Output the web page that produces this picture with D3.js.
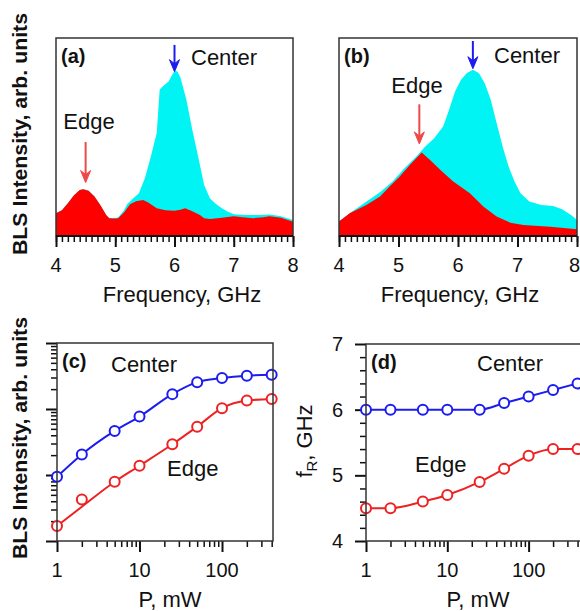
<!DOCTYPE html>
<html><head><meta charset="utf-8">
<script src="https://cdn.jsdelivr.net/npm/d3@7"></script>
<style>
html,body{margin:0;padding:0;background:#fff;}
text{font-family:"Liberation Sans",Arial,Helvetica,sans-serif;fill:#111;}
</style></head>
<body>
<svg id="fig" width="580" height="611"></svg>
<script>
// ---------- DATA ----------
// Panel (a): BLS spectra (arb. units, 0..1 full scale)
const edgeFreqA   = [4.0,4.1,4.2,4.3,4.4,4.46,4.55,4.65,4.75,4.85,4.9,5.0,5.05,5.15,5.25,5.35,5.47,5.55,5.7,5.85,6.0,6.1,6.18,6.3,6.43,6.5,6.6,6.8,7.0,7.15,7.33,7.5,7.6,7.8,8.0];
const edgeA       = [0.115,0.13,0.165,0.205,0.232,0.236,0.228,0.2,0.155,0.105,0.09,0.088,0.09,0.12,0.16,0.175,0.182,0.17,0.14,0.13,0.128,0.133,0.14,0.125,0.106,0.09,0.086,0.092,0.1,0.095,0.09,0.095,0.1,0.092,0.072];
const centerFreqA = [4.0,4.1,4.2,4.3,4.4,4.46,4.55,4.65,4.75,4.85,4.9,5.0,5.05,5.15,5.2,5.3,5.4,5.5,5.6,5.7,5.75,5.8,5.9,6.0,6.05,6.1,6.2,6.3,6.4,6.5,6.6,6.7,6.8,6.9,7.0,7.2,7.44,7.6,7.78,8.0];
const centerA     = [0.115,0.13,0.165,0.205,0.232,0.236,0.228,0.2,0.155,0.105,0.09,0.09,0.095,0.13,0.16,0.19,0.216,0.292,0.40,0.52,0.74,0.755,0.78,0.835,0.831,0.80,0.69,0.536,0.40,0.258,0.19,0.162,0.14,0.123,0.11,0.106,0.106,0.108,0.101,0.081];
// Panel (b)
const edgeFreqB   = [4.0,4.18,4.46,4.69,4.85,5.02,5.19,5.39,5.53,5.7,5.92,6.2,6.43,6.65,6.88,7.1,7.55,8.0];
const edgeB       = [0.073,0.115,0.157,0.199,0.25,0.3,0.359,0.422,0.384,0.334,0.275,0.216,0.148,0.098,0.067,0.056,0.047,0.034];
const centerFreqB = [4.0,4.18,4.3,4.5,4.7,4.9,5.1,5.3,5.45,5.6,5.75,5.85,5.95,6.05,6.15,6.25,6.35,6.45,6.55,6.65,6.75,6.85,6.95,7.05,7.2,7.4,7.6,7.75,7.9,8.0];
const centerB     = [0.073,0.115,0.14,0.182,0.224,0.275,0.342,0.401,0.452,0.494,0.553,0.637,0.73,0.789,0.823,0.84,0.823,0.772,0.688,0.57,0.452,0.351,0.275,0.216,0.174,0.157,0.152,0.135,0.106,0.081];
// Panels (c),(d): power dependence
const powerMW     = [1,2,5,10,25,50,100,200,400];
const intCenter   = [9.4,20.5,46.5,76.7,168,255,294,319,330];
const intEdge     = [1.69,4.25,7.9,13.8,29.2,54,103,134,142];
const fitCenter   = [9.4,20.5,46.5,76.7,168,255,294,319,330];
const fitEdge     = [1.69,3.3,7.9,13.8,29.2,54,103,134,142];
const fCenter     = [6.0,6.0,6.0,6.0,6.0,6.1,6.2,6.3,6.4];
const fEdge       = [4.5,4.5,4.6,4.7,4.9,5.1,5.3,5.4,5.4];
const freqTicks   = [4,5,6,7,8];
const powerTicks  = [1,10,100];
const fTicks      = [4,5,6,7];

// ---------- STYLE ----------
const CYAN="#00f4f4", RED="#ff0000", BLUE="#1c1cf0", LRED="#ee2222", ARED="#f04848";
const svg = d3.select("#fig");

function frame(g, x0,x1,y0,y1){
  g.append("rect").attr("x",x0).attr("y",y0).attr("width",x1-x0).attr("height",y1-y0)
   .attr("fill","none").attr("stroke","#333").attr("stroke-width",1.5);
}
function styleAxis(sel, w){
  sel.select(".domain").remove();
  sel.selectAll(".tick line").attr("stroke","#111").attr("stroke-width",w||1.5);
  sel.selectAll(".tick text").remove();
}
function labelText(x,y,t,opt){
  opt=opt||{};
  return svg.append("text").attr("x",x).attr("y",y).text(t)
   .attr("font-size",opt.size||22).attr("font-weight",opt.bold?"bold":"normal")
   .attr("text-anchor",opt.anchor||"start");
}
function arrow(x, yTop, yTip, color){
  svg.append("line").attr("x1",x).attr("x2",x).attr("y1",yTop).attr("y2",yTip-6)
    .attr("stroke",color).attr("stroke-width",2);
  svg.append("path").attr("d",`M${x},${yTip} L${x-5},${yTip-12} L${x},${yTip-8} L${x+5},${yTip-12} Z`)
    .attr("fill",color).attr("stroke",color).attr("stroke-width",1);
}

// ---------- SPECTRA PANELS ----------
function spectrum(P){
  const x = d3.scaleLinear().domain([4,8]).range([P.l,P.r]);
  const y = d3.scaleLinear().domain([0,1]).range([P.b,P.t]);
  const g = svg.append("g");
  const area = (fs,vs)=> d3.area().x((d,i)=>x(fs[i])).y0(y(0)).y1((d,i)=>y(vs[i]))(vs);
  g.append("path").attr("d",area(P.cf,P.cv)).attr("fill",CYAN);
  g.append("path").attr("d",area(P.ef,P.ev)).attr("fill",RED);
  const minor = d3.range(40,81).map(v=>v/10);
  g.append("g").attr("transform",`translate(0,${P.b})`)
    .call(d3.axisBottom(x).tickValues(minor).tickSize(6)).call(s=>styleAxis(s,1.5));
  g.append("g").attr("transform",`translate(0,${P.b})`)
    .call(d3.axisBottom(x).tickValues(freqTicks).tickSize(11)).call(s=>styleAxis(s,2));
  frame(g,P.l,P.r,P.t,P.b);
  g.append("line").attr("x1",P.l).attr("x2",P.r).attr("y1",P.b).attr("y2",P.b).attr("stroke","#111").attr("stroke-width",2);
  freqTicks.forEach(v=>{
    const px = x(v);
    if (px + 6 > 580) labelText(580,272,String(v),{size:20,anchor:"end"});
    else labelText(px,272,String(v),{size:20,anchor:"middle"});
  });
  labelText(P.titleX,302,"Frequency, GHz",{size:22,anchor:"middle"});
  labelText(P.l+5,63,P.tag,{size:20,bold:true});
  return {x,y};
}
const A = spectrum({l:56,r:293,t:38,b:236,cf:centerFreqA,cv:centerA,ef:edgeFreqA,ev:edgeA,titleX:182,tag:"(a)"});
arrow(A.x(6.0),A.y(0.965),A.y(0.83),BLUE);
arrow(A.x(4.5),A.y(0.475),A.y(0.27),ARED);
labelText(191,65,"Center");
labelText(89,129,"Edge",{anchor:"middle"});

const B = spectrum({l:339,r:577,t:38,b:236,cf:centerFreqB,cv:centerB,ef:edgeFreqB,ev:edgeB,titleX:460,tag:"(b)"});
arrow(B.x(6.25),B.y(0.985),B.y(0.845),BLUE);
arrow(B.x(5.35),B.y(0.665),B.y(0.465),ARED);
labelText(494,63,"Center");
labelText(417,93,"Edge",{anchor:"middle"});

// Y titles of top row / panel c
svg.append("text").attr("transform","translate(27,134) rotate(-90)").attr("text-anchor","middle")
  .attr("font-size",20).attr("font-weight","bold").attr("textLength",242).attr("lengthAdjust","spacingAndGlyphs")
  .text("BLS Intensity, arb. units");
svg.append("text").attr("transform","translate(27,438) rotate(-90)").attr("text-anchor","middle")
  .attr("font-size",20).attr("font-weight","bold").attr("textLength",242).attr("lengthAdjust","spacingAndGlyphs")
  .text("BLS Intensity, arb. units");

// ---------- POWER PANELS ----------
function logMinor(lo,hi){
  const out=[]; for(let d=lo; d<hi; d*=10){ for(let k=1;k<10;k++){ out.push(d*k);} } out.push(hi); return out;
}
function powerPanel(P){
  const x = d3.scaleLog().domain([1,P.xmax]).range([P.l,P.r]);
  const g = svg.append("g");
  const xm = logMinor(1,1000).filter(v=>v<=P.xmax && powerTicks.indexOf(v)<0);
  g.append("g").attr("transform",`translate(0,${P.b})`)
    .call(d3.axisBottom(x).tickValues(xm).tickSize(6)).call(s=>styleAxis(s,1.5));
  g.append("g").attr("transform",`translate(0,${P.b})`)
    .call(d3.axisBottom(x).tickValues(powerTicks).tickSize(11)).call(s=>styleAxis(s,2));
  powerTicks.forEach(v=>labelText(x(v),577,String(v),{size:20,anchor:"middle"}));
  labelText(P.titleX,607,"P, mW",{size:22,anchor:"middle"});
  return {x,g};
}
function series(g,x,y,vals,fit,color){
  g.append("path").attr("d",d3.line().curve(d3.curveMonotoneX).x((d,i)=>x(powerMW[i])).y(d=>y(d))(fit))
    .attr("fill","none").attr("stroke",color).attr("stroke-width",2);
  g.selectAll(null).data(vals).join("circle").attr("cx",(d,i)=>x(powerMW[i])).attr("cy",d=>y(d))
    .attr("r",5).attr("fill","#fff").attr("stroke",color).attr("stroke-width",2);
}

// (c)
const C = powerPanel({l:57,r:273,t:343,b:541,xmax:415,titleX:170});
const yC = d3.scaleLog().domain([1,1000]).range([541,343]);
C.g.append("g").attr("transform","translate(57,0)")
  .call(d3.axisLeft(yC).tickValues(logMinor(1,1000).filter(v=>[1,10,100,1000].indexOf(v)<0)).tickSize(6)).call(s=>styleAxis(s,1.5));
C.g.append("g").attr("transform","translate(57,0)")
  .call(d3.axisLeft(yC).tickValues([1,10,100,1000]).tickSize(11)).call(s=>styleAxis(s,2));
const sc = C.g.append("g");
series(sc,C.x,yC,intCenter,fitCenter,BLUE);
series(sc,C.x,yC,intEdge,fitEdge,LRED);
frame(C.g,57,273,343,541);
labelText(62,368,"(c)",{size:20,bold:true});
labelText(111,372,"Center");
labelText(167,476,"Edge");

// (d)
const D = powerPanel({l:366,r:581,t:344,b:541,xmax:441,titleX:478});
const yD = d3.scaleLinear().domain([4,7]).range([541,344]);
D.g.append("g").attr("transform","translate(366,0)")
  .call(d3.axisLeft(yD).tickValues(d3.range(4,7.01,0.2).filter(v=>Math.abs(v-Math.round(v))>0.01)).tickSize(6)).call(s=>styleAxis(s,1.5));
D.g.append("g").attr("transform","translate(366,0)")
  .call(d3.axisLeft(yD).tickValues(fTicks).tickSize(11)).call(s=>styleAxis(s,2));
fTicks.forEach(v=>labelText(343,yD(v)+7,String(v),{size:20,anchor:"end"}));
const sd = D.g.append("g");
series(sd,D.x,yD,fCenter,fCenter,BLUE);
series(sd,D.x,yD,fEdge,fEdge,LRED);
frame(D.g,366,581,344,541);
labelText(371,369,"(d)",{size:20,bold:true});
labelText(477,371,"Center");
labelText(415,472,"Edge");
// f_R, GHz
const fr = svg.append("text").attr("transform","translate(312,441) rotate(-90)").attr("text-anchor","middle").attr("font-size",22);
fr.append("tspan").text("f");
fr.append("tspan").attr("font-size",15).attr("dy",5).text("R");
fr.append("tspan").attr("dy",-5).text(", GHz");
</script>
</body></html>
